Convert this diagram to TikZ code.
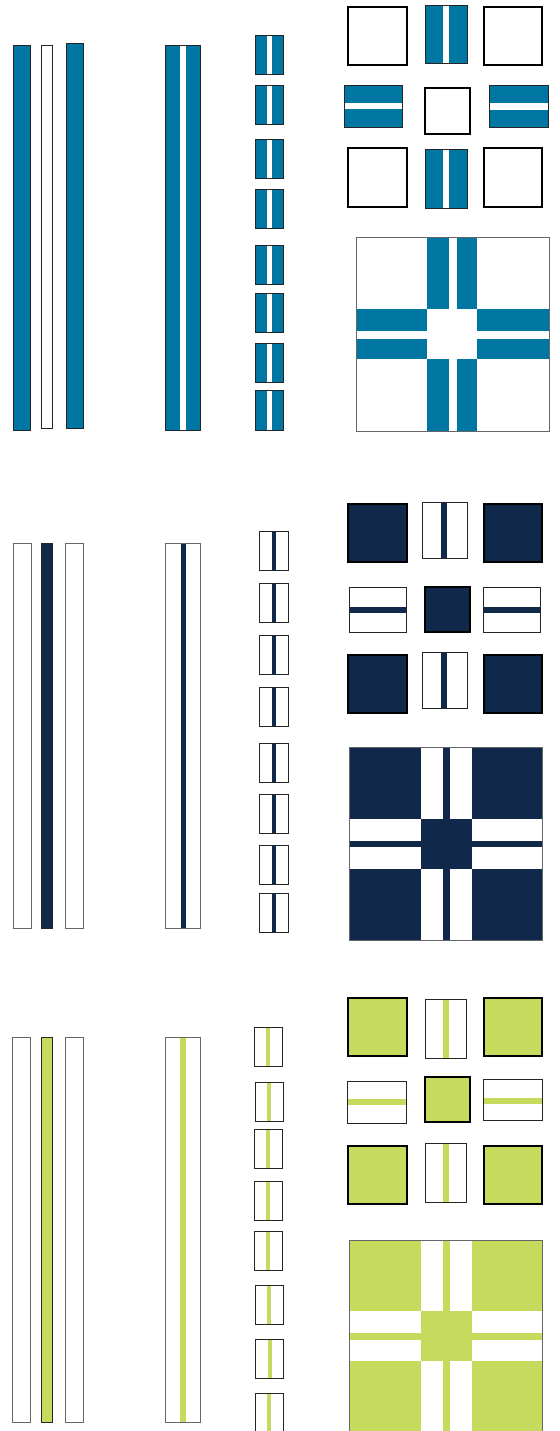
\documentclass[tikz,border=0pt]{standalone}
\usepackage{tikz}
\definecolor{tealb}{HTML}{0076A3}
\definecolor{navyc}{HTML}{10284A}
\definecolor{limec}{HTML}{C6DA5D}
\tikzset{
  thinb/.style={draw=black!85,line width=0.6pt},
  thickb/.style={draw=black,line width=1.3pt},
  grayb/.style={draw=black!60,line width=0.6pt}
}
% vertical-stripe box: [border]{x1}{y1}{x2}{y2}{fill}{stripe}{sx1}{sx2}
\newcommand{\myvsq}[9][thinb]{%
  \fill[#6] (#2,#3) rectangle (#4,#5);
  \fill[#7] (#8,#3) rectangle (#9,#5);
  \path[#1] (#2,#3) rectangle (#4,#5);}
% horizontal-stripe box: [border]{x1}{y1}{x2}{y2}{fill}{stripe}{sy1}{sy2}
\newcommand{\myhsq}[9][thinb]{%
  \fill[#6] (#2,#3) rectangle (#4,#5);
  \fill[#7] (#2,#8) rectangle (#4,#9);
  \path[#1] (#2,#3) rectangle (#4,#5);}
% plain box
\newcommand{\mypsq}[6][thickb]{%
  \path[#1,fill=#6] (#2,#3) rectangle (#4,#5);}
\begin{document}
\begin{tikzpicture}[x=0.75pt,y=-0.75pt]
\useasboundingbox (0,0) rectangle (560,1431);
\clip (0,0) rectangle (560,1431);
% ================= SECTION 1 (blue) =================
\mypsq[thinb]{13.3}{45}{30.7}{430}{tealb}
\mypsq[thinb]{41.3}{45}{52.3}{428}{white}
\mypsq[thinb]{66.3}{43.3}{83.3}{428}{tealb}
\myvsq{165.3}{45}{200.3}{430}{tealb}{white}{180.3}{186}
\foreach \ya/\yb in {35/74,85.3/124.3,139.3/178.3,189.3/228.3,245.3/284.3,293.3/332.3,343.3/382.3,390.7/430}{
  \myvsq{255.3}{\ya}{283.3}{\yb}{tealb}{white}{266.7}{271.7}
}
\mypsq{348.3}{6.7}{407}{65}{white}
\myvsq{425.3}{5.3}{467}{63.3}{tealb}{white}{442.7}{449}
\mypsq{484}{6.7}{542.3}{65}{white}
\myhsq{344}{85.3}{402.7}{127.3}{tealb}{white}{102.7}{109.3}
\mypsq{425}{88.3}{470}{133.7}{white}
\myhsq{489.3}{85.3}{548.3}{127.7}{tealb}{white}{103.3}{110}
\mypsq{348.3}{148}{407}{206.7}{white}
\myvsq{425.3}{149.3}{467}{208}{tealb}{white}{442.7}{449}
\mypsq{484}{148}{542.3}{206.7}{white}
% big square
\fill[white] (356.3,237.7) rectangle (549,431);
\fill[tealb] (427.3,237.7) rectangle (477.3,431);
\fill[tealb] (356.3,309.3) rectangle (549,359.3);
\fill[white] (427.3,309.3) rectangle (477.3,359.3);
\fill[white] (449,237.7) rectangle (456.7,431);
\fill[white] (356.3,331) rectangle (549,338.7);
\draw[grayb] (356.3,237.7) rectangle (549,431);
% ================= SECTION 2 (navy) =================
\mypsq[grayb]{13.3}{543.3}{31.3}{928.3}{white}
\mypsq[thinb]{41.3}{543.3}{52.3}{928.3}{navyc}
\mypsq[grayb]{65.3}{543.3}{83.3}{928.3}{white}
\myvsq[grayb]{165.7}{543.3}{200.3}{928.3}{white}{navyc}{180.7}{185.7}
\foreach \ya/\yb in {531.7/570.3,583.7/622.3,635.7/674.3,687.7/726.3,743.7/782.3,794.3/833,845.3/884.3,893.3/932.3}{
  \myvsq{259.3}{\ya}{288.7}{\yb}{white}{navyc}{271.7}{276.3}
}
\mypsq{348.3}{504}{407.3}{562.3}{navyc}
\myvsq{422.3}{502}{467}{558.3}{white}{navyc}{441}{447.3}
\mypsq{483.7}{504}{542.3}{562.3}{navyc}
\myhsq{349.3}{587.3}{406.7}{632.3}{white}{navyc}{607.3}{613.3}
\mypsq{425}{587}{470}{632}{navyc}
\myhsq{483}{587.3}{540}{632.3}{white}{navyc}{607.3}{613.3}
\mypsq{348.3}{655}{407.3}{713.3}{navyc}
\myvsq{422.3}{652}{467}{708.3}{white}{navyc}{441}{447.3}
\mypsq{483.7}{655}{542.3}{713.3}{navyc}
% big square
\fill[navyc] (349.3,747.3) rectangle (542.3,940.7);
\fill[white] (421.3,747.3) rectangle (471.7,940.7);
\fill[white] (349.3,819.3) rectangle (542.3,869.3);
\fill[navyc] (421.3,819.3) rectangle (471.7,869.3);
\fill[navyc] (443.3,747.3) rectangle (449.7,940.7);
\fill[navyc] (349.3,840.7) rectangle (542.3,847.3);
\draw[grayb] (349.3,747.3) rectangle (542.3,940.7);
% ================= SECTION 3 (lime) =================
\mypsq[grayb]{12.7}{1037.3}{30.3}{1422.3}{white}
\mypsq[thinb]{41.3}{1037.3}{52.3}{1422.3}{limec}
\mypsq[grayb]{65.3}{1037.3}{83.3}{1422.3}{white}
\myvsq[grayb]{165.7}{1037.3}{200.3}{1422.3}{white}{limec}{180.3}{186}
\foreach \xa/\ya/\yb in {254.3/1027.3/1066.3,255.3/1082/1121,254.3/1129.3/1168.7,254.3/1181.3/1220.3,254.3/1231.7/1270.7,255.3/1285.3/1324.3,255.7/1339.3/1378.7,255.3/1393.3/1436}{
  \myvsq{\xa}{\ya}{\xa+28}{\yb}{white}{limec}{\xa+12}{\xa+16}
}
\mypsq{348.3}{997.7}{407.3}{1056}{limec}
\myvsq{425.3}{999.3}{466.7}{1058}{white}{limec}{442.7}{449}
\mypsq{483.7}{997.7}{542.3}{1056}{limec}
\myhsq{347.3}{1081.7}{406.3}{1123}{white}{limec}{1099.3}{1105.3}
\mypsq{425}{1077.3}{470}{1122}{limec}
\myhsq{483.3}{1079.7}{542.3}{1120.7}{white}{limec}{1097.7}{1103.7}
\mypsq{348.3}{1145.7}{407.3}{1204.3}{limec}
\myvsq{425.3}{1143.7}{466.7}{1202.3}{white}{limec}{442.7}{449}
\mypsq{483.7}{1145.7}{542.3}{1204.3}{limec}
% big square
\fill[limec] (349.3,1240) rectangle (542.3,1436);
\fill[white] (421.3,1240) rectangle (471.7,1436);
\fill[white] (349.3,1311) rectangle (542.3,1361);
\fill[limec] (421.3,1311) rectangle (471.7,1361);
\fill[limec] (443.3,1240) rectangle (449.7,1436);
\fill[limec] (349.3,1333.3) rectangle (542.3,1339.7);
\draw[grayb] (349.3,1240) rectangle (542.3,1436);
\end{tikzpicture}
\end{document}
